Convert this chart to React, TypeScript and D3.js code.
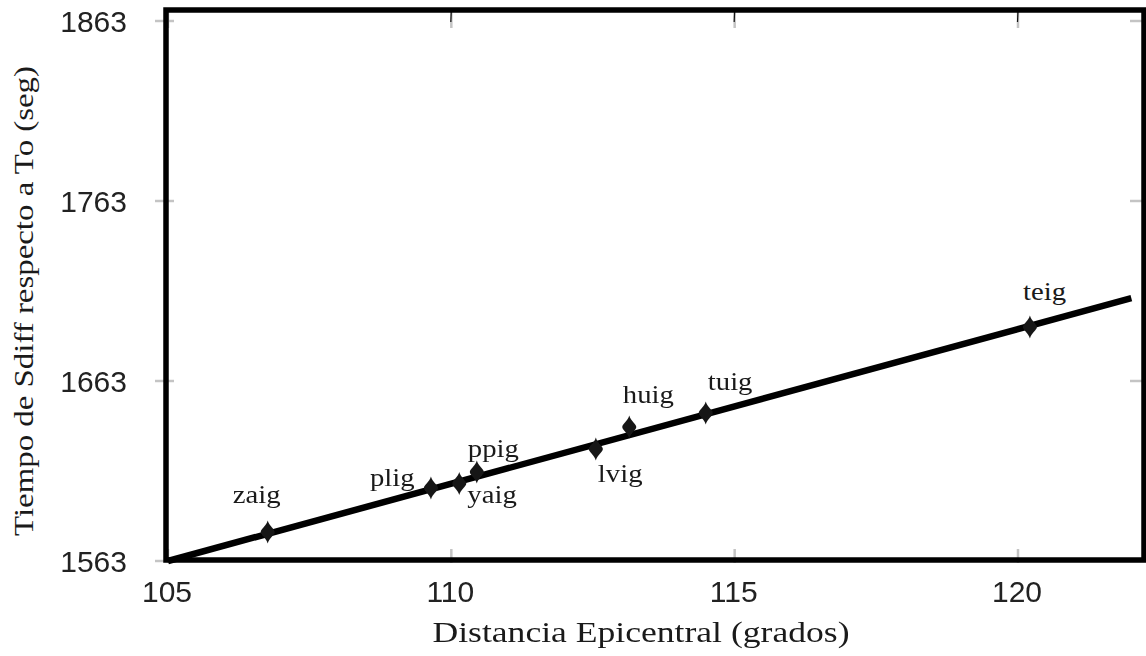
import React from "react";
import * as d3 from "d3";

// Estaciones: distancia epicentral (grados) y tiempo Sdiff respecto a To (seg)
const stations = ["zaig", "plig", "yaig", "ppig", "lvig", "huig", "tuig", "teig"];
const distances = [106.76, 109.64, 110.14, 110.45, 112.55, 113.14, 114.49, 120.21];
const times = [1579.1, 1603.6, 1606.1, 1612.4, 1625.2, 1637.4, 1645.2, 1693.0];

// Recta de ajuste (extremos)
const fitX = [105, 122];
const fitY = [1563, 1709];

const xTicks = [105, 110, 115, 120];
const yTicks = [1563, 1663, 1763, 1863];

const xTitle = "Distancia Epicentral (grados)";
const yTitle = "Tiempo de  Sdiff  respecto a To  (seg)";

// Desplazamiento de cada etiqueta respecto a su marcador (px)
const labelOffset: Record<string, [number, number]> = {
  zaig: [-35, -29],
  plig: [-61, -2],
  yaig: [8, 19.5],
  ppig: [-9, -15],
  lvig: [2, 33],
  huig: [-6.5, -24],
  tuig: [2, -23],
  teig: [-7, -27],
};

const W = 1146;
const H = 656;
const left = 166;
const right = 1144;
const top = 10;
const bottom = 560;

export default function App() {
  const x = d3.scaleLinear().domain([105, 120]).range([168, 1018]);
  const y = d3.scaleLinear().domain([1563, 1863]).range([561, 21]);

  const line = d3
    .line<number>()
    .x((_, i) => x(fitX[i]))
    .y((_, i) => y(fitY[i]));

  const diamond = "M0,-11.5 C1.5,-6 7,-3 7,0 C7,3 1.5,6 0,11.5 C-1.5,6 -7,3 -7,0 C-7,-3 -1.5,-6 0,-11.5 Z";
  const serif = "'Liberation Serif', 'Times New Roman', serif";
  const sans = "'Liberation Sans', Arial, sans-serif";
  const tickGray = "#c4c4c4";

  return (
    <svg
      width={W}
      height={H}
      viewBox={`0 0 ${W} ${H}`}
      style={{ position: "absolute", left: 0, top: 0, background: "#fff" }}
    >
      <defs>
        <filter id="soft" x="-50%" y="-50%" width="200%" height="200%">
          <feGaussianBlur stdDeviation="0.7" />
        </filter>
      </defs>
      <rect x={0} y={0} width={W} height={H} fill="#fff" />

      {/* marcas de graduación, interiores y grises */}
      <g stroke={tickGray} strokeWidth={2.5}>
        {xTicks.map((t) => (
          <g key={"xt" + t}>
            <line x1={x(t)} x2={x(t)} y1={top} y2={top + 18} />
            <line x1={x(t)} x2={x(t)} y1={bottom - 11} y2={bottom + 3} />
          </g>
        ))}
        {yTicks.map((t) => (
          <g key={"yt" + t}>
            <line x1={left - 11} x2={left + 8} y1={y(t)} y2={y(t)} />
            <line x1={right - 14} x2={right + 2} y1={y(t)} y2={y(t)} />
          </g>
        ))}
      </g>
      <g stroke="#111" strokeWidth={1.2}>
        {xTicks.slice(1).map((t) => (
          <line key={"xb" + t} x1={x(t)} x2={x(t) - 0.5} y1={top} y2={top + 12} />
        ))}
      </g>

      {/* marco */}
      <rect
        x={left}
        y={top}
        width={right - left}
        height={bottom - top}
        fill="none"
        stroke="#000"
        strokeWidth={5.5}
      />

      {/* recta de ajuste */}
      <path
        d={line(fitX) || ""}
        fill="none"
        stroke="#000"
        strokeWidth={6.5}
        strokeLinecap="butt"
      />

      {/* estaciones */}
      <g filter="url(#soft)">
        {stations.map((s, i) => (
          <path
            key={s}
            d={diamond}
            transform={`translate(${x(distances[i])},${y(times[i])})`}
            fill="#161616"
          />
        ))}
      </g>
      <g fill="#1a1a1a" fontFamily={serif} fontSize={25}>
        {stations.map((s, i) => {
          const [dx, dy] = labelOffset[s];
          return (
            <text
              key={"l" + s}
              transform={`translate(${x(distances[i]) + dx},${y(times[i]) + dy}) scale(1.15,1)`}
            >
              {s}
            </text>
          );
        })}
      </g>

      {/* etiquetas de los ejes */}
      <g fill="#222" fontFamily={sans} fontSize={30}>
        {yTicks.map((t) => (
          <text key={"yl" + t} x={127} y={y(t)} dy="0.36em" textAnchor="end">
            {t}
          </text>
        ))}
        {xTicks.map((t) => (
          <text key={"xl" + t} x={x(t) - 1} y={602} textAnchor="middle">
            {t}
          </text>
        ))}
      </g>

      {/* títulos */}
      <text
        x={641}
        y={642}
        textAnchor="middle"
        fontFamily={serif}
        fontSize={29}
        fill="#1a1a1a"
        textLength={417}
        lengthAdjust="spacingAndGlyphs"
      >
        {xTitle}
      </text>
      <text
        transform="translate(33,301) rotate(-90)"
        textAnchor="middle"
        fontFamily={serif}
        fontSize={27}
        fill="#1a1a1a"
        textLength={470}
        lengthAdjust="spacingAndGlyphs"
      >
        {yTitle}
      </text>
    </svg>
  );
}
